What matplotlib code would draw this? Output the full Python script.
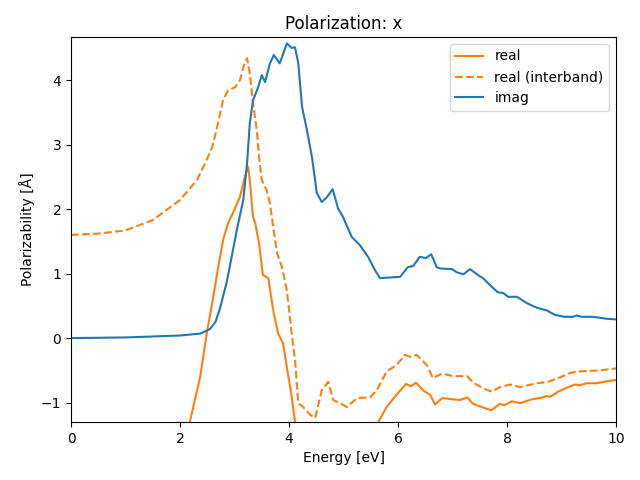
import matplotlib
matplotlib.use("Agg")
import matplotlib.pyplot as plt

# Energy grid (eV) and values
imag_e = [0.0, 1.0, 2.0, 2.37, 2.55, 2.65, 2.73, 2.86, 2.97, 3.04, 3.16, 3.23, 3.28, 3.34,
          3.43, 3.50, 3.56, 3.65, 3.72, 3.83, 3.96, 4.05, 4.11, 4.17, 4.24, 4.33,
          4.42, 4.51, 4.60, 4.70, 4.80, 4.90, 4.99, 5.15, 5.30, 5.45, 5.58, 5.67,
          5.85, 6.04, 6.18, 6.28, 6.40, 6.51, 6.61, 6.71, 6.77, 6.99, 7.08, 7.20,
          7.32, 7.50, 7.56, 7.69, 7.83, 7.93, 8.02, 8.18, 8.37, 8.55, 8.73, 8.88,
          9.06, 9.21, 9.28, 9.37, 9.58, 9.83, 10.0]
imag_v = [0.0, 0.01, 0.04, 0.07, 0.14, 0.25, 0.45, 0.88, 1.36, 1.67, 2.14, 2.71, 3.33, 3.69,
          3.88, 4.08, 3.97, 4.26, 4.39, 4.26, 4.57, 4.50, 4.51, 4.26, 3.58, 3.22,
          2.81, 2.25, 2.11, 2.19, 2.31, 2.01, 1.88, 1.57, 1.44, 1.26, 1.05, 0.93,
          0.94, 0.95, 1.10, 1.12, 1.26, 1.24, 1.30, 1.10, 1.08, 1.07, 1.02, 0.99,
          1.07, 0.96, 0.93, 0.82, 0.71, 0.70, 0.64, 0.64, 0.54, 0.47, 0.43, 0.36,
          0.33, 0.33, 0.35, 0.33, 0.33, 0.30, 0.29]

real_e = [1.8, 2.0, 2.18, 2.37, 2.49, 2.61, 2.70, 2.79, 2.88, 2.97, 3.10, 3.19, 3.25,
          3.28, 3.34, 3.38, 3.45, 3.52, 3.62, 3.71, 3.80, 3.89, 3.96, 4.05, 4.11,
          4.2, 4.6, 5.2, 5.5, 5.64, 5.79, 5.97, 6.15, 6.24, 6.33, 6.46, 6.59, 6.68,
          6.81, 7.01, 7.14, 7.27, 7.38, 7.54, 7.71, 7.87, 7.95, 8.09, 8.24, 8.45,
          8.61, 8.72, 8.79, 8.94, 9.12, 9.25, 9.34, 9.46, 9.65, 9.83, 10.0]
real_v = [-3.4, -1.97, -1.3, -0.60, 0.07, 0.64, 1.10, 1.52, 1.78, 1.94, 2.19, 2.50, 2.66,
          2.45, 1.88, 1.78, 1.47, 0.98, 0.93, 0.43, 0.07, -0.08, -0.45, -0.91, -1.3,
          -2.0, -2.8, -2.6, -1.8, -1.3, -1.07, -0.88, -0.71, -0.75, -0.69, -0.81, -0.88, -1.03,
          -0.93, -0.95, -0.96, -0.92, -1.02, -1.07, -1.12, -1.02, -1.04, -0.98, -1.01, -0.95,
          -0.93, -0.90, -0.91, -0.83, -0.76, -0.72, -0.73, -0.70, -0.70, -0.67, -0.65]

inter_e = [0.0, 0.5, 1.0, 1.5, 2.0, 2.31, 2.46, 2.59, 2.68, 2.79, 2.88, 3.01, 3.10,
           3.16, 3.23, 3.28, 3.34, 3.41, 3.45, 3.50, 3.59, 3.65, 3.71, 3.78, 3.87,
           3.96, 4.05, 4.11, 4.17, 4.26, 4.39, 4.48, 4.60, 4.72, 4.81, 4.94, 5.06,
           5.25, 5.49, 5.61, 5.79, 5.97, 6.13, 6.22, 6.34, 6.53, 6.64, 6.81, 7.01,
           7.27, 7.38, 7.56, 7.72, 7.87, 8.06, 8.24, 8.55, 8.75, 8.97, 9.16, 9.28,
           9.46, 9.71, 10.0]
inter_v = [1.60, 1.62, 1.67, 1.83, 2.14, 2.45, 2.71, 2.96, 3.27, 3.69, 3.84, 3.89, 4.00,
           4.20, 4.34, 4.11, 3.64, 3.22, 2.81, 2.45, 2.29, 2.09, 1.72, 1.32, 1.10,
           0.74, 0.07, -0.34, -1.01, -1.07, -1.19, -1.24, -0.81, -0.68, -0.96, -1.01, -1.07,
           -0.93, -0.92, -0.81, -0.52, -0.42, -0.26, -0.29, -0.26, -0.42, -0.62, -0.55, -0.59,
           -0.59, -0.69, -0.78, -0.83, -0.76, -0.72, -0.76, -0.70, -0.68, -0.61, -0.54, -0.52,
           -0.51, -0.50, -0.47]

fig, ax = plt.subplots(figsize=(6.4, 4.8))

ax.plot(real_e, real_v, color="C1", label="real")
ax.plot(inter_e, inter_v, color="C1", ls="--", label="real (interband)")
ax.plot(imag_e, imag_v, color="C0", label="imag")

ax.set_xlim(0, 10)
ax.set_ylim(-1.3, 4.67)
ax.set_title("Polarization: x")
ax.set_xlabel("Energy [eV]")
ax.set_ylabel("Polarizability [Å]")
ax.legend(loc="upper right")
fig.subplots_adjust(left=0.111, right=0.9625, top=0.923, bottom=0.121)

fig.savefig("out.png", dpi=100)
